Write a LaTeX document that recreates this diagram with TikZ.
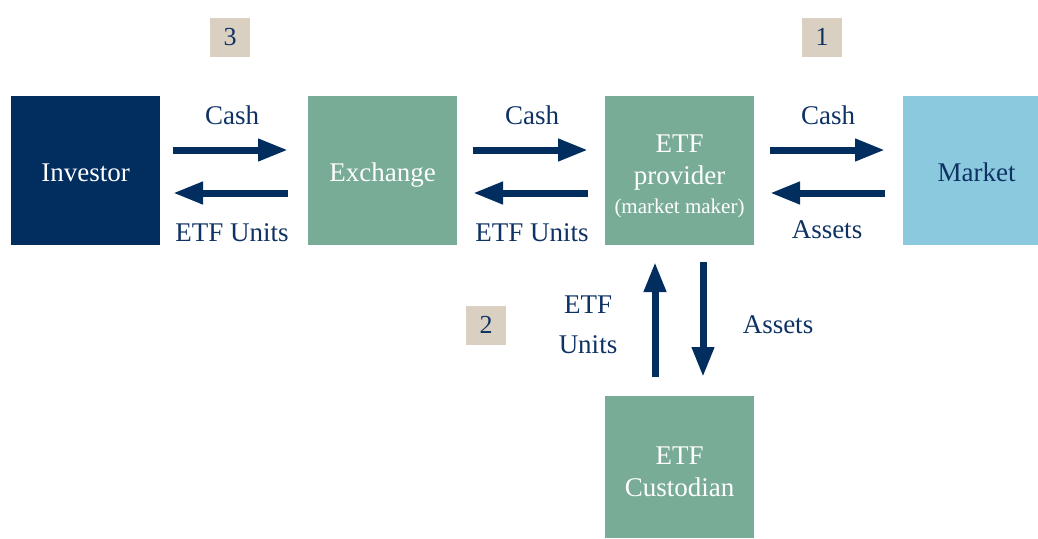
\documentclass[tikz,border=0pt]{standalone}
\usepackage{fontspec}
\setmainfont{Liberation Serif}
\usetikzlibrary{arrows.meta}
\definecolor{navy}{HTML}{022D5F}
\definecolor{sage}{HTML}{78AC96}
\definecolor{sky}{HTML}{8BCADE}
\definecolor{tag}{HTML}{D9D0C2}
\definecolor{ink}{HTML}{0F3264}
\tikzset{
  box/.style={anchor=north west, inner sep=0pt, minimum width=149pt, minimum height=149pt, align=center, text=white, text height=24pt, text depth=3pt, font=\fontsize{27}{32}\selectfont},
  boxtext/.style={text=white, align=center, inner sep=0pt, font=\fontsize{27}{32}\selectfont},
  tagbox/.style={fill=tag, minimum width=40pt, minimum height=39pt, inner sep=0pt, text=ink, font=\fontsize{26}{30}\selectfont},
  lbl/.style={text=ink, font=\fontsize{27}{40}\selectfont, align=center, inner sep=0pt},
  flow/.style={draw=navy, line width=7pt, -{Triangle[length=30pt,width=21pt]}}
}
\begin{document}
\begin{tikzpicture}[x=1pt,y=-1pt]
\useasboundingbox (0,0) rectangle (1038,538);
% boxes
\node[box, fill=navy] (inv) at (11,96) {Investor};
\node[box, fill=sage] (exc) at (308,96) {Exchange};
\node[box, fill=sage] (prov) at (605,96) {};
\node[boxtext] (provt) at (679.5,163) {ETF\\provider};
\node[boxtext, font=\fontsize{21}{24}\selectfont] (provm) at (679.5,208) {(market maker)};
\node[box, fill=sky, minimum width=135pt, text=ink] (mkt) at (903,96) {\hspace{12pt}Market};
\path[fill=sage] (605,396) rectangle (754,538);
\node[boxtext] (cust) at (679.5,472) {ETF\\Custodian};
% tags
\node[tagbox] (t3) at (230,37) {3};
\node[tagbox] (t1) at (822,37) {1};
\node[tagbox] (t2) at (486,325) {2};
% arrow coordinates
\coordinate (a1s) at (173,150); \coordinate (a1e) at (288,150);
\coordinate (b1s) at (288,193); \coordinate (b1e) at (173,193);
\coordinate (a2s) at (473,150); \coordinate (a2e) at (588,150);
\coordinate (b2s) at (588,193); \coordinate (b2e) at (473,193);
\coordinate (a3s) at (770,150); \coordinate (a3e) at (885,150);
\coordinate (b3s) at (885,193); \coordinate (b3e) at (770,193);
\coordinate (us) at (655,377); \coordinate (ue) at (655,262);
\coordinate (ds) at (703,262); \coordinate (de) at (703,377);
\draw[flow] (a1s) -- (a1e);
\draw[flow] (b1s) -- (b1e);
\draw[flow] (a2s) -- (a2e);
\draw[flow] (b2s) -- (b2e);
\draw[flow] (a3s) -- (a3e);
\draw[flow] (b3s) -- (b3e);
\draw[flow] (us) -- (ue);
\draw[flow] (ds) -- (de);
% labels
\node[lbl] (c1) at (232,115) {Cash};
\node[lbl] (u1) at (232,233) {ETF Units};
\node[lbl] (c2) at (532,115) {Cash};
\node[lbl] (u2) at (532,233) {ETF Units};
\node[lbl] (c3) at (828,115) {Cash};
\node[lbl] (s3) at (827,230) {Assets};
\node[lbl] (u4) at (588,325) {ETF\\Units};
\node[lbl] (s4) at (778,325) {Assets};
\end{tikzpicture}
\end{document}
